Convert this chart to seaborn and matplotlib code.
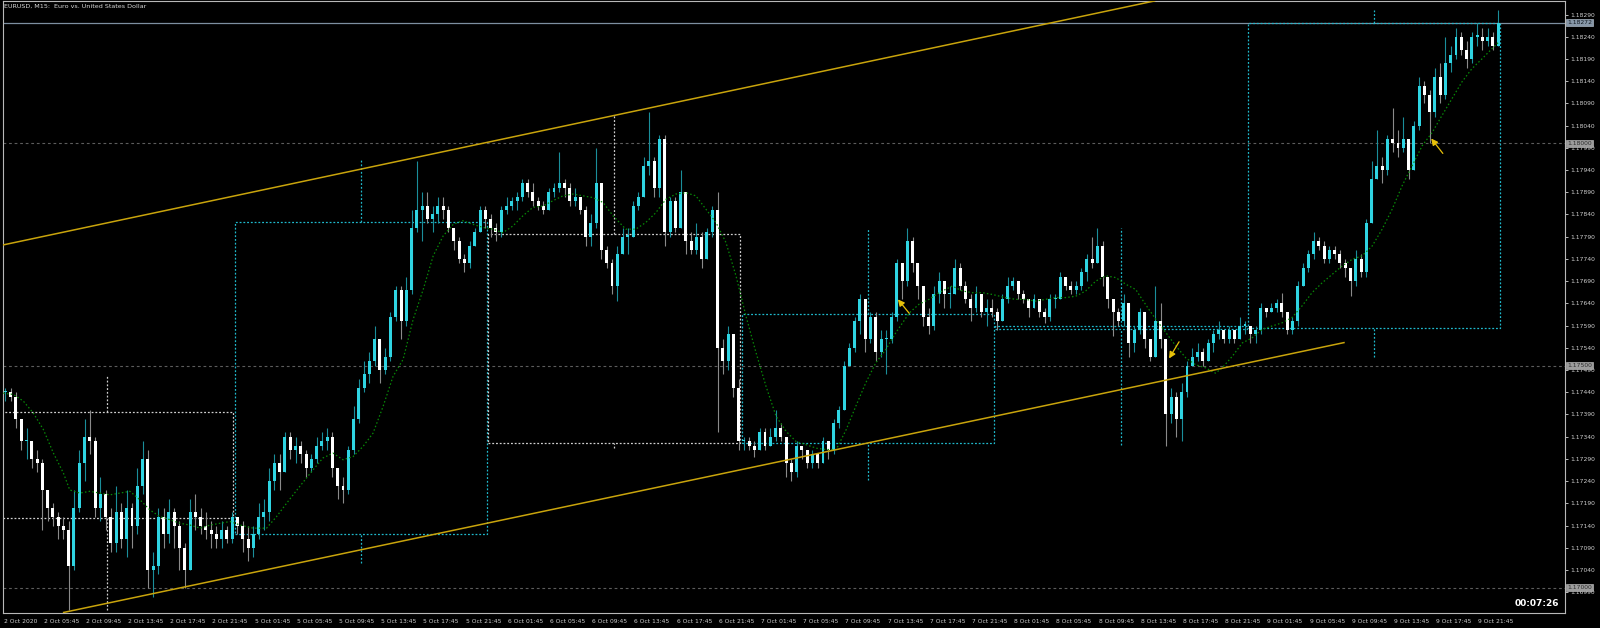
#!/usr/bin/env python3

import matplotlib
matplotlib.use("Agg")
from matplotlib import pyplot as plt
from matplotlib.patches import Rectangle
import matplotlib.transforms as mtransforms
import numpy as np
import pandas as pd
import seaborn as sns

BASE = 1.17000  # all prices below are pips above this level
PIP = 0.0001

# EURUSD 30 minute bars, 2 Oct (from 02:00) to 9 Oct 2020
FIRST_OPEN = 44
CLOSE = [
    # 2 Oct
    44, 43, 38, 33, 33, 29, 28, 22, 18, 16, 14, 13, 5, 18, 28, 34, 33, 18, 21, 16,
    10, 17, 11, 18, 14, 23, 29, 4, 5, 16, 12, 17, 14, 9, 4, 17, 16, 14, 13, 12,
    11, 13, 11, 16,
    # 5 Oct
    14, 11, 9, 12, 16, 17, 24, 28, 26, 34, 31, 32, 30, 27, 29, 32, 33, 34, 27, 23,
    22, 31, 38, 45, 48, 51, 56, 49, 52, 61, 67, 60, 67, 81, 85, 86, 83, 84, 86, 85,
    81, 78, 74, 73, 77, 80, 85, 83,
    # 6 Oct
    81, 80, 85, 86, 87, 88, 91, 89, 87, 86, 85, 89, 90, 91, 90, 87, 88, 85, 79, 82,
    91, 76, 73, 68, 75, 79, 79, 86, 88, 95, 96, 90, 101, 80, 87, 81, 89, 78, 76, 79,
    74, 80, 85, 54, 51, 57, 45, 33,
    # 7 Oct
    33, 32, 31, 35, 32, 34, 36, 34, 28, 26, 32, 31, 28, 30, 28, 33, 31, 37, 40, 50,
    54, 60, 65, 56, 61, 53, 56, 56, 61, 73, 69, 78, 73, 68, 61, 59, 66, 69, 66, 66,
    72, 68, 65, 63, 66, 62, 63, 62,
    # 8 Oct
    60, 65, 68, 69, 66, 65, 63, 65, 62, 61, 65, 65, 70, 68, 67, 68, 71, 74, 73, 77,
    70, 65, 62, 60, 64, 55, 58, 62, 56, 52, 60, 56, 39, 43, 38, 44, 50, 52, 53, 51,
    55, 57, 58, 56, 58, 56, 59, 59,
    # 9 Oct
    57, 58, 63, 62, 63, 64, 62, 58, 60, 68, 72, 75, 78, 77, 74, 76, 75, 73, 72, 69,
    74, 71, 82, 92, 95, 94, 101, 100, 99, 101, 94, 104, 113, 111, 107, 115, 111, 118, 120, 124,
    121, 119, 124, 124, 123, 124, 122, 127.2,
]
HIGH = [
    45, 45, 44, 37, 36, 33, 31, 29, 22, 19, 17, 16, 15, 22, 31, 38, 40, 34, 25, 22,
    18, 23, 19, 22, 19, 27, 33, 31, 8, 18, 18, 20, 18, 15, 10, 20, 21, 18, 17, 15,
    14, 15, 14, 17,
    16, 15, 14, 14, 19, 20, 27, 30, 30, 35, 35, 34, 33, 31, 30, 34, 35, 36, 35, 27,
    25, 32, 41, 47, 51, 53, 59, 56, 54, 62, 68, 68, 70, 85, 96, 89, 89, 86, 88, 88,
    86, 81, 79, 75, 78, 81, 86, 86,
    84, 82, 86, 88, 88, 89, 92, 92, 91, 88, 87, 90, 91, 98, 92, 91, 90, 88, 86, 84,
    99, 91, 77, 74, 77, 81, 81, 87, 89, 97, 107, 97, 102, 102, 88, 88, 94, 89, 80, 82,
    80, 81, 86, 89, 56, 59, 57, 47,
    34, 34, 33, 36, 36, 36, 40, 37, 34, 29, 33, 32, 31, 31, 30, 34, 33, 38, 41, 51,
    55, 61, 66, 62, 62, 62, 58, 58, 62, 74, 73, 81, 79, 73, 68, 63, 68, 71, 68, 68,
    74, 73, 69, 66, 68, 66, 65, 65,
    63, 66, 70, 70, 69, 67, 65, 66, 65, 63, 66, 66, 71, 70, 69, 69, 72, 75, 79, 81,
    78, 70, 65, 63, 66, 63, 59, 63, 61, 56, 68, 64, 56, 45, 44, 46, 51, 54, 55, 54,
    56, 58, 60, 58, 59, 58, 61, 60,
    59, 59, 64, 63, 64, 65, 66.4, 62, 61, 69, 73, 76, 80, 79, 78, 77, 77, 76, 74, 72,
    76, 75, 83, 96, 103, 97, 102, 108, 103, 106, 101, 105, 115, 114, 112, 117, 118, 124, 122, 126,
    125, 123, 125, 127, 126, 126, 125, 130,
]
LOW = [
    42, 42, 36, 31, 29, 27, 26, 13, 15, 14, 11, 11, -5, 4, 17, 24, 30, 16, 15, 13,
    8, 8, 9, 7, 9, 12, 21, 0, -2, 3, 9, 10, 9, 4, 0, 5, 13, 12, 11, 9,
    9, 9, 10, 10,
    12, 8, 6, 7, 11, 13, 15, 22, 22, 26, 29, 28, 28, 25, 26, 28, 31, 31, 25, 20,
    19, 21, 30, 37, 44, 46, 50, 46, 48, 51, 60, 56, 59, 66, 80, 78, 82, 80, 82, 83,
    80, 76, 73, 71, 72, 77, 80, 81,
    79, 78, 79, 84, 85, 85, 87, 88, 86, 85, 84, 85, 88, 89, 88, 86, 86, 84, 77, 77,
    81, 74, 72, 66, 64.5, 75, 75, 79, 85, 88, 93, 88, 88, 77, 79, 80, 84, 75, 75, 75,
    72, 76, 79, 35, 48, 49, 43, 31,
    31, 31, 29.5, 31, 31, 32, 33, 33, 25, 24, 25, 29, 27, 27, 27, 28, 29, 30, 36, 40,
    50, 53, 57, 53, 55, 51, 52, 48, 55, 60, 65, 68, 71, 65, 59, 57, 58, 64, 63, 63,
    66, 67, 64, 60, 62, 61, 59, 61,
    58, 60, 64, 67, 65, 64, 61, 63, 61, 59.6, 60, 63, 65, 67, 66, 66, 67, 69, 72, 73,
    68, 63, 56.6, 59, 59, 52, 53, 57, 54, 51, 52, 54, 32, 37, 34, 33, 43, 50, 51, 50,
    51, 53, 56, 55, 55, 55, 56, 57,
    55, 55, 57, 61, 62, 62, 61, 57, 57, 59, 68, 71, 74, 76, 73, 73, 74, 72, 70, 65.6,
    68, 70, 70, 82, 92, 91, 93, 98, 97, 98, 92, 94, 103, 109, 100, 106, 109, 110, 116, 119,
    120, 117, 118, 122, 121, 122, 121, 122,
]

# moving average (bar position, pips)
MA_T = [
    -0.4, 1.5, 3.4, 5.3, 7.2, 9.1, 11.0, 12.2, 14.1, 16.0, 17.9, 19.8, 21.7, 23.6, 25.5,
    27.4, 29.3, 31.2, 33.1, 35.0, 36.9, 38.8, 40.7, 42.6, 44.5, 47.0, 49.5, 51.4, 53.3,
    55.8, 58.3,
    60.2, 62.1, 64.0, 65.9, 67.8, 69.7, 71.6, 73.5, 75.4, 77.3, 79.2, 81.1, 83.0, 84.9,
    86.7, 88.6, 90.5, 92.4, 94.3, 96.2, 98.1, 100.0, 101.9, 103.8, 105.7, 107.6, 109.5,
    111.4, 113.3, 115.2, 117.6,
    119.5, 121.4, 123.3, 125.2, 127.1, 129.0, 130.9, 132.8, 134.7, 136.6, 138.5, 140.4,
    142.3, 144.2, 146.1, 148.0, 149.9, 151.8, 153.7, 155.6, 157.5, 159.4, 161.2, 163.1,
    165.0, 166.9, 168.8, 171.4, 173.2, 175.1, 177.0,
    179.5, 181.4, 183.3, 185.2, 187.1, 189.6, 191.5, 193.4, 195.3, 197.2, 199.1, 201.0,
    202.9, 204.8, 206.7, 208.6, 210.5, 212.4, 214.3, 215.5, 216.8, 218.1, 220.0, 221.9,
    223.8, 225.6, 227.5, 229.4, 230.7, 232.6, 234.5, 236.3,
    238.2, 240.1, 242.0, 243.9, 245.8, 247.7, 249.6, 251.5, 253.4, 255.3, 257.2, 259.1,
    261.0, 262.9, 264.8, 266.7, 268.6, 270.5, 272.3, 274.2, 276.1, 278.0, 279.9, 281.8,
    283.1,
]
MA_PIPS = [
    43.8, 43.5, 42.0, 39.3, 35.6, 30.3, 25.8, 22.0, 21.3, 21.7, 21.3, 20.9, 21.3, 21.7, 19.8,
    17.5, 16.0, 15.3, 14.5, 14.1, 13.4, 14.1, 14.5, 14.9, 14.1, 13.4, 13.4, 16.0, 19.0,
    22.8, 26.5,
    29.2, 30.3, 28.8, 29.5, 31.8, 34.8, 40.8, 47.6, 51.4, 60.4, 67.1, 74.7, 79.2, 81.8,
    82.6, 81.8, 81.1, 80.7, 79.9, 81.4, 83.7, 85.6, 85.9, 87.1, 88.2, 88.6, 88.2,
    87.8, 86.7, 83.7, 80.7,
    80.7, 82.2, 84.4, 87.4, 88.6, 88.9, 88.2, 85.2, 82.2, 77.7, 70.2, 61.1,
    52.9, 45.3, 38.6, 35.2, 32.9, 32.2, 31.4, 31.1, 31.1, 35.6, 40.8, 46.1,
    50.6, 53.6, 57.4, 61.9, 63.8, 64.9, 66.4,
    67.9, 66.8, 66.4, 66.4, 66.0, 65.3, 64.9, 64.9, 64.5, 64.9, 65.3, 65.3,
    65.6, 66.8, 69.0, 70.2, 69.8, 68.3, 67.1, 64.9, 62.6, 60.4, 57.4, 54.4,
    51.7, 50.2, 49.5, 48.3, 49.5, 52.1, 55.1, 56.2,
    58.1, 58.9, 59.6, 60.8, 63.4, 66.4, 68.6, 70.5, 72.4, 73.9, 74.7, 76.9,
    80.7, 85.2, 90.5, 95.0, 99.5, 102.5, 106.2, 110.0, 113.8, 116.8, 119.0, 121.3,
    122.8,
]

# daily candles drawn over the chart
DAY_MID = [19.26, 67.36, 115.43, 163.47, 211.49, 259.5]
DAY_OPEN = [39.6, 12.0, 79.5, 32.5, 58.3, 58.5]
DAY_CLOSE = [15.7, 82.4, 32.5, 61.7, 59.0, 127.2]
DAY_HIGH = [47.7, 96.5, 106.4, 80.9, 80.9, 130.0]
DAY_LOW = [-5.0, 5.6, 31.4, 24.2, 32.1, 52.0]

# channel trend lines (bar position, pips)
UPPER_LINE = [(-1.02, 77.0), (218.0, 132.1)]
LOWER_LINE = [(10.9, -5.6), (253.9, 55.2)]

# small arrows: tail -> head
ARROW_TAIL = [(171.35, 61.75), (222.5, 55.35), (272.5, 97.75)]
ARROW_HEAD = [(169.2, 64.9), (220.6, 51.6), (270.3, 101.1)]

LEVELS = [100, 50, 0]
BID = 127.2

XTICK_POS = [-0.27] + [7.25 + 8 * k for k in range(35)]
XTICK_LABELS = [
    "2 Oct 2020",
    "2 Oct 05:45", "2 Oct 09:45", "2 Oct 13:45", "2 Oct 17:45", "2 Oct 21:45",
    "5 Oct 01:45", "5 Oct 05:45", "5 Oct 09:45", "5 Oct 13:45", "5 Oct 17:45", "5 Oct 21:45",
    "6 Oct 01:45", "6 Oct 05:45", "6 Oct 09:45", "6 Oct 13:45", "6 Oct 17:45", "6 Oct 21:45",
    "7 Oct 01:45", "7 Oct 05:45", "7 Oct 09:45", "7 Oct 13:45", "7 Oct 17:45", "7 Oct 21:45",
    "8 Oct 01:45", "8 Oct 05:45", "8 Oct 09:45", "8 Oct 13:45", "8 Oct 17:45", "8 Oct 21:45",
    "9 Oct 01:45", "9 Oct 05:45", "9 Oct 09:45", "9 Oct 13:45", "9 Oct 17:45", "9 Oct 21:45",
]
YTICKS = [
    1.18290, 1.18240, 1.18190, 1.18140, 1.18090, 1.18040, 1.17990, 1.17940, 1.17890,
    1.17840, 1.17790, 1.17740, 1.17690, 1.17640, 1.17590, 1.17540, 1.17490, 1.17440,
    1.17390, 1.17340, 1.17290, 1.17240, 1.17190, 1.17140, 1.17090, 1.17040, 1.16990,
]


def px(pips):
    return BASE + np.asarray(pips, dtype=float) * PIP


def main():
    sns.set_theme(style="dark", rc={
        "axes.facecolor": "black", "figure.facecolor": "black",
        "savefig.facecolor": "black",
    })
    plt.rcParams["font.family"] = ["DejaVu Sans"]

    fig = plt.figure(figsize=(16, 6.28), dpi=100)
    ax = fig.add_axes([3 / 1600, 15 / 628, 1562 / 1600, 612 / 628])
    ax.set_facecolor("black")

    # Candles

    df = pd.DataFrame({"close": CLOSE, "high": HIGH, "low": LOW})
    df["open"] = df["close"].shift(1).fillna(FIRST_OPEN)
    df["t"] = np.arange(len(df))
    up = df["close"] >= df["open"]
    top = np.maximum(df["open"], df["close"])
    bot = np.minimum(df["open"], df["close"])
    hi = np.maximum(df["high"], top)
    lo = np.minimum(df["low"], bot)

    ax.vlines(df["t"], px(lo), px(hi),
              colors=np.where(up, "#1a8e9a", "#8a8a8a"), lw=0.8, zorder=3)
    ax.bar(df["t"], np.maximum(top - bot, 0.3) * PIP, bottom=px(bot),
           width=0.56, color=np.where(up, "#2fd4e2", "#ffffff"),
           linewidth=0, zorder=4)

    # Moving average

    ma = pd.DataFrame({"t": MA_T, "v": px(MA_PIPS)})
    sns.lineplot(data=ma, x="t", y="v", ax=ax, color="#088a08",
                 linestyle=(0, (1.2, 1.8)), linewidth=0.9, zorder=5)

    # Horizontal levels and bid line

    for lv in LEVELS:
        ax.axhline(px(lv), color="#5c5c5c", lw=0.8, ls=(0, (2.5, 2.5)), zorder=1)
    ax.axhline(px(BID), color="#7d8fa0", lw=0.9, zorder=2)

    # Daily candles

    dots = (0, (1.5, 1.5))
    for mid, o, c, h, l in zip(DAY_MID, DAY_OPEN, DAY_CLOSE, DAY_HIGH, DAY_LOW):
        col = "#1fb9cc" if c >= o else "#cfcfcf"
        b, t = px(min(o, c)), px(max(o, c))
        ax.add_patch(Rectangle((mid - 23.85, b), 47.7, t - b, fill=False,
                               ec=col, lw=0.9, ls=dots, zorder=2))
        ax.vlines([mid, mid], [t, px(l)], [px(h), b], colors=col, lw=0.9,
                  linestyles=[dots], zorder=2)

    # Channel

    for line in (UPPER_LINE, LOWER_LINE):
        (x0, y0), (x1, y1) = line
        ax.plot([x0, x1], px([y0, y1]), color="#c9a40c", lw=1.1, zorder=6,
                solid_capstyle="butt")

    for (tx, ty), (hx, hy) in zip(ARROW_TAIL, ARROW_HEAD):
        ax.annotate("", xy=(hx, px(hy)), xytext=(tx, px(ty)),
                    arrowprops=dict(arrowstyle="-|>,head_length=0.32,head_width=0.16",
                                    color="#e8c20a", lw=0.9, shrinkA=0, shrinkB=0),
                    zorder=7)

    # Axes styling

    ax.set_xlim(-0.455, 295.66)
    ax.set_ylim(px(-5.69), px(132.05))
    ax.set_xlabel("")
    ax.set_ylabel("")
    for sp in ax.spines.values():
        sp.set_visible(True)
        sp.set_color("#b8b8b8")
        sp.set_linewidth(0.8)
    ax.grid(False)

    ax.yaxis.tick_right()
    ax.set_yticks(YTICKS, [f"{v:.5f}" for v in YTICKS])
    ax.set_xticks(XTICK_POS, XTICK_LABELS)
    ax.tick_params(axis="both", colors="#b8b8b8", labelcolor="#cfcfcf",
                   labelsize=4.3, length=2.5, width=0.7, direction="out")
    ax.tick_params(axis="y", pad=1)
    ax.tick_params(axis="x", pad=1.5)
    for lab in ax.get_xticklabels():
        lab.set_ha("left")

    # Price boxes on the right scale

    trans = mtransforms.blended_transform_factory(ax.transAxes, ax.transData)
    for lv in LEVELS:
        ax.text(1.0015, px(lv), f"{px(lv):.5f}", transform=trans, fontsize=4.3,
                color="#2a2a2a", ha="left", va="center", clip_on=False, zorder=10,
                bbox=dict(boxstyle="square,pad=0.15", fc="#9c9c9c", ec="#b0b0b0",
                          lw=0.5))
    ax.text(1.0015, px(BID), f"{px(BID):.5f}", transform=trans, fontsize=4.3,
            color="#101820", ha="left", va="center", clip_on=False, zorder=10,
            bbox=dict(boxstyle="square,pad=0.15", fc="#8797a8", ec="#a8b4c0",
                      lw=0.5))

    fig.text(4 / 1600, 1 - 6.5 / 628, "EURUSD, M15:  Euro vs. United States Dollar",
             fontsize=4.6, color="#d8d8d8", va="center", ha="left")
    fig.text(1559 / 1600, 1 - 604 / 628, "00:07:26", fontsize=6.5,
             fontweight="bold", color="white", va="center", ha="right")

    fig.savefig("out.png", dpi=100, facecolor="black")


if __name__ == "__main__":
    main()
